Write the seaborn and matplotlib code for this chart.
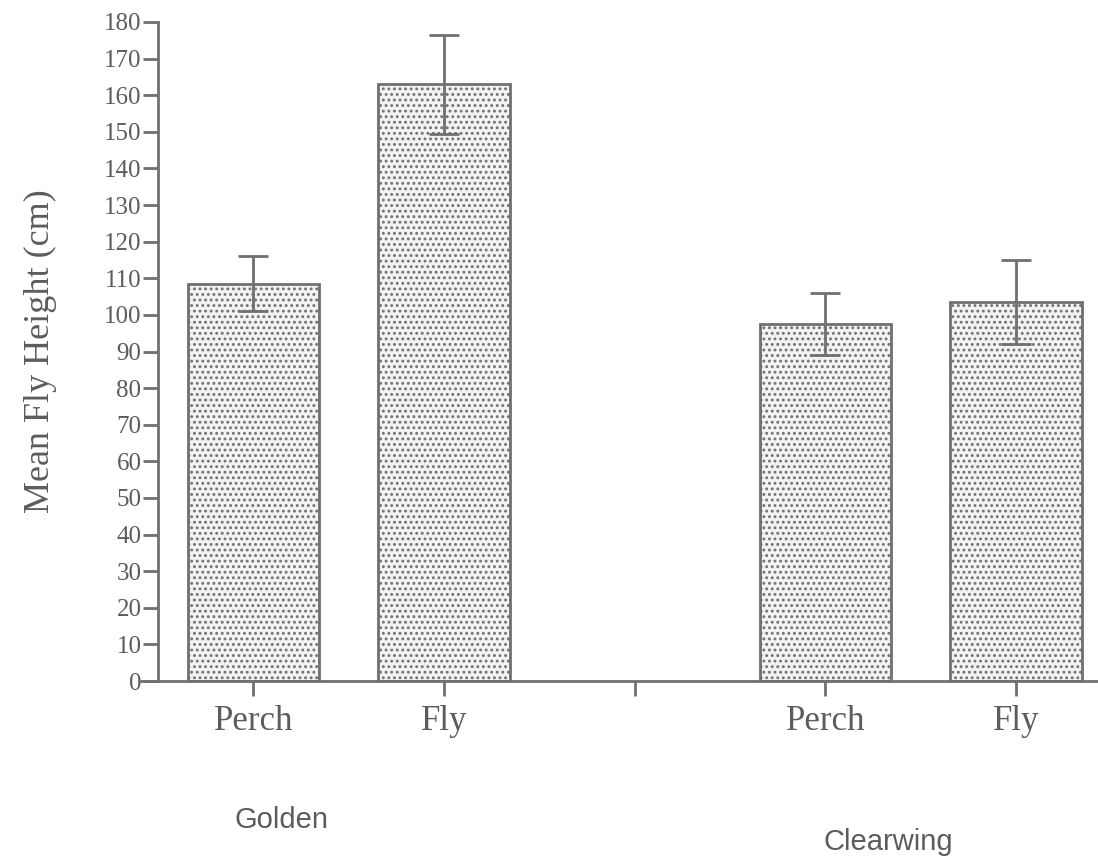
import matplotlib
matplotlib.use("Agg")
import matplotlib.pyplot as plt
import seaborn as sns
import pandas as pd

# Mean fly height per species and behaviour, with standard errors
species = ["Golden", "Golden", "Clearwing", "Clearwing"]
behaviour = ["Perch", "Fly", "Perch", "Fly"]
mean_height = [108.5, 163.0, 97.5, 103.5]
std_error = [7.5, 13.5, 8.5, 11.5]

# x slots: two bars per species with an empty slot between the groups
slot_order = ["Golden Perch", "Golden Fly", "gap", "Clearwing Perch", "Clearwing Fly"]
slot_labels = ["Perch", "Fly", "", "Perch", "Fly"]
y_ticks = list(range(0, 181, 10))

df = pd.DataFrame({
    "species": species,
    "behaviour": behaviour,
    "slot": [f"{s} {b}" for s, b in zip(species, behaviour)],
    "height": mean_height,
    "se": std_error,
})

ink = "#707070"
text_col = "#5c5c5c"

sns.set_theme(style="white")
plt.rcParams["hatch.color"] = "#a0a0a0"
plt.rcParams["hatch.linewidth"] = 1.3
serif = ["Liberation Serif", "DejaVu Serif"]
sans = ["Liberation Sans", "DejaVu Sans"]

fig = plt.figure(figsize=(10.98, 8.65), dpi=100)
ax = fig.add_axes([139 / 1098, 184 / 865, 1 - 139 / 1098, 659 / 865])

sns.barplot(
    data=df, x="slot", y="height", order=slot_order,
    color="#f3f3f3", edgecolor=ink, linewidth=2.0, width=0.69,
    errorbar=None, ax=ax, zorder=2,
)
for patch in ax.patches:
    patch.set_hatch("...")

# error bars from the stated standard errors, centred on each bar
pos = [slot_order.index(s) for s in df["slot"]]
ax.errorbar(pos, df["height"], yerr=df["se"], fmt="none", ecolor=ink,
            elinewidth=2.0, capsize=11, capthick=2.0, zorder=3)

sns.despine(ax=ax)
ax.spines["left"].set_position(("data", -0.5))
for side in ("left", "bottom"):
    ax.spines[side].set_color(ink)
    ax.spines[side].set_linewidth(2.0)

ax.set_xlim(-0.6, 4.43)
ax.set_ylim(0, 180)
ax.set_yticks(y_ticks)
ax.set_yticklabels([str(v) for v in y_ticks], family=serif, fontsize=18, color=text_col)
ax.set_xticks(range(len(slot_order)))
ax.set_xticklabels(slot_labels, family=serif, fontsize=25, color=text_col)
ax.tick_params(axis="both", which="major", direction="out", length=11,
               width=2.0, color=ink, left=True, bottom=True)
ax.tick_params(axis="y", pad=1)
ax.tick_params(axis="x", pad=6)

ax.set_xlabel("")
ax.set_ylabel("Mean Fly Height (cm)", family=serif, fontsize=26,
              color=text_col, labelpad=34)

# species names under each pair of bars
fig.text(281 / 1098, 1 - 820 / 865, "Golden", ha="center", va="center",
         family=sans, fontsize=21, color=text_col)
fig.text(888 / 1098, 1 - 842 / 865, "Clearwing", ha="center", va="center",
         family=sans, fontsize=21, color=text_col)

fig.savefig("out.png", dpi=100, facecolor="white")
